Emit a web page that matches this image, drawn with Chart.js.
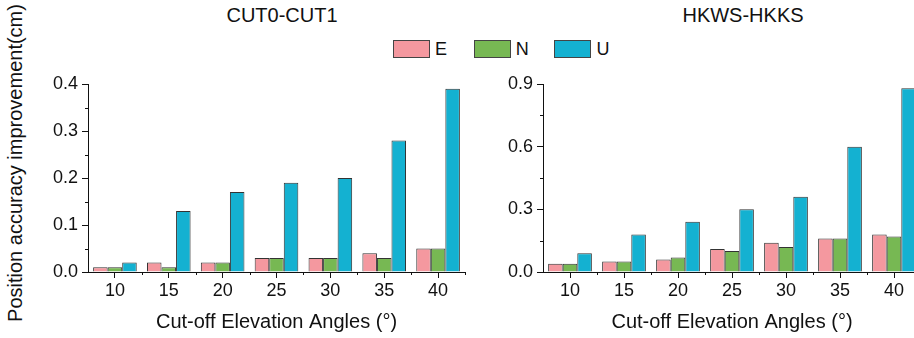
<!DOCTYPE html>
<html>
<head>
<meta charset="utf-8">
<script src="https://cdn.jsdelivr.net/npm/chart.js@4"></script>
<style>
  html, body { margin: 0; padding: 0; background: #fff; }
  body {
    width: 914px; height: 338px; position: relative; overflow: hidden;
    font-family: Arial, "Liberation Sans", sans-serif; color: #111;
  }
  .panel { position: absolute; top: 0; height: 338px; }
  #leftPanel  { left: 0;     width: 475px; }
  #rightPanel { left: 470px; width: 470px; }
  .title {
    position: absolute; top: 3px; font-size: 20px; line-height: 24px;
    transform: translateX(-50%); white-space: nowrap;
  }
  .ytitle {
    position: absolute; left: 15px; top: 163px; font-size: 20px; line-height: 24px;
    transform: translate(-50%, -50%) rotate(-90deg); white-space: nowrap;
  }
  .legend { position: absolute; top: 40px; height: 18px; display: flex; align-items: center; }
  .legend .item { display: flex; align-items: center; }
  .legend .swatch {
    width: 35px; height: 16px; border: 1px solid #444; margin-right: 5px;
  }
  .legend .label { font-size: 18px; line-height: 18px; width: 38.7px; }
</style>
</head>
<body>

<div class="ytitle">Position accuracy improvement(cm)</div>
<div class="title" style="left:282px">CUT0-CUT1</div>
<div class="title" style="left:743px">HKWS-HKKS</div>
<div class="legend" id="legend" style="left:393px"></div>

<div class="panel" id="leftPanel"><canvas id="cutChart" width="475" height="338"></canvas></div>
<div class="panel" id="rightPanel"><canvas id="hkChart" width="470" height="338"></canvas></div>

<script>
// Cut-off elevation angles (degrees)
const angles = ['10', '15', '20', '25', '30', '35', '40'];

// Position accuracy improvement (cm), CUT0-CUT1 baseline
const cutE = [0.01, 0.02, 0.02, 0.03, 0.03, 0.04, 0.05];
const cutN = [0.01, 0.01, 0.02, 0.03, 0.03, 0.03, 0.05];
const cutU = [0.02, 0.13, 0.17, 0.19, 0.20, 0.28, 0.39];

// Position accuracy improvement (cm), HKWS-HKKS baseline
const hkE = [0.04, 0.05, 0.06, 0.11, 0.14, 0.16, 0.18];
const hkN = [0.04, 0.05, 0.07, 0.10, 0.12, 0.16, 0.17];
const hkU = [0.09, 0.18, 0.24, 0.30, 0.36, 0.60, 0.88];

const componentNames = ['E', 'N', 'U'];
const colors = ['#F4989F', '#77B853', '#14B1D1'];
const edge = '#333';
const fontFamily = 'Arial, "Liberation Sans", sans-serif';

// HTML legend shared by both panels
const legend = document.getElementById('legend');
componentNames.forEach((name, i) => {
  const item = document.createElement('div');
  item.className = 'item';
  item.innerHTML = '<div class="swatch" style="background:' + colors[i] + '"></div>' +
                   '<div class="label">' + name + '</div>';
  legend.appendChild(item);
});

// Short minor ticks between the major ones, plus the small x-axis overhang
const minorTicks = {
  id: 'minorTicks',
  afterDraw(chart) {
    const ctx = chart.ctx;
    const x = chart.scales.x;
    const y = chart.scales.y;
    const step = chart.options.scales.y.ticks.stepSize;
    ctx.save();
    ctx.strokeStyle = '#111';
    ctx.lineWidth = 1;
    ctx.beginPath();
    for (let v = step / 2; v < y.max; v += step) {
      const py = Math.round(y.getPixelForValue(v)) + 0.5;
      ctx.moveTo(y.right - 3, py);
      ctx.lineTo(y.right, py);
    }
    const half = (x.getPixelForValue(1) - x.getPixelForValue(0)) / 2;
    for (let i = 1; i <= angles.length; i++) {
      const px = Math.round(x.getPixelForValue(i) - half) + 0.5;
      ctx.moveTo(px, x.top);
      ctx.lineTo(px, x.top + 3);
    }
    const ay = Math.round(x.top) + 0.5;
    ctx.moveTo(x.left - 4, ay);
    ctx.lineTo(x.left, ay);
    ctx.stroke();
    ctx.restore();
  }
};

function makeDatasets(e, n, u) {
  return [e, n, u].map((data, i) => ({
    label: componentNames[i],
    data: data,
    backgroundColor: colors[i],
    borderColor: edge,
    borderWidth: 1,
    barPercentage: 1,
    categoryPercentage: 0.81
  }));
}

function makeOptions(maxY, step, yWidth, padRight) {
  return {
    responsive: false,
    animation: false,
    layout: { padding: { top: 84, left: 0, right: padRight, bottom: 0 } },
    plugins: { legend: { display: false }, tooltip: { enabled: false } },
    scales: {
      x: {
        grid: { display: true, drawOnChartArea: false, offset: false, tickLength: 6, color: '#111' },
        border: { display: true, color: '#111', width: 1 },
        ticks: { color: '#111', font: { family: fontFamily, size: 18 }, padding: 2, maxRotation: 0 },
        title: {
          display: true, text: 'Cut-off Elevation Angles (°)', color: '#111',
          font: { family: fontFamily, size: 20 }, padding: { top: 0, bottom: 4 }
        },
        afterFit(scale) { scale.height = 66; }
      },
      y: {
        min: 0, max: maxY,
        grid: { display: true, drawOnChartArea: false, tickLength: 6, color: '#111' },
        border: { display: true, color: '#111', width: 1 },
        ticks: {
          stepSize: step, color: '#111', padding: 4,
          font: { family: fontFamily, size: 18 },
          callback: v => v.toFixed(1)
        },
        afterFit(scale) { scale.width = yWidth; }
      }
    }
  };
}

new Chart(document.getElementById('cutChart'), {
  type: 'bar',
  data: { labels: angles, datasets: makeDatasets(cutE, cutN, cutU) },
  options: makeOptions(0.4, 0.1, 88, 10),
  plugins: [minorTicks]
});

new Chart(document.getElementById('hkChart'), {
  type: 'bar',
  data: { labels: angles, datasets: makeDatasets(hkE, hkN, hkU) },
  options: makeOptions(0.9, 0.3, 73, 19),
  plugins: [minorTicks]
});
</script>
</body>
</html>
